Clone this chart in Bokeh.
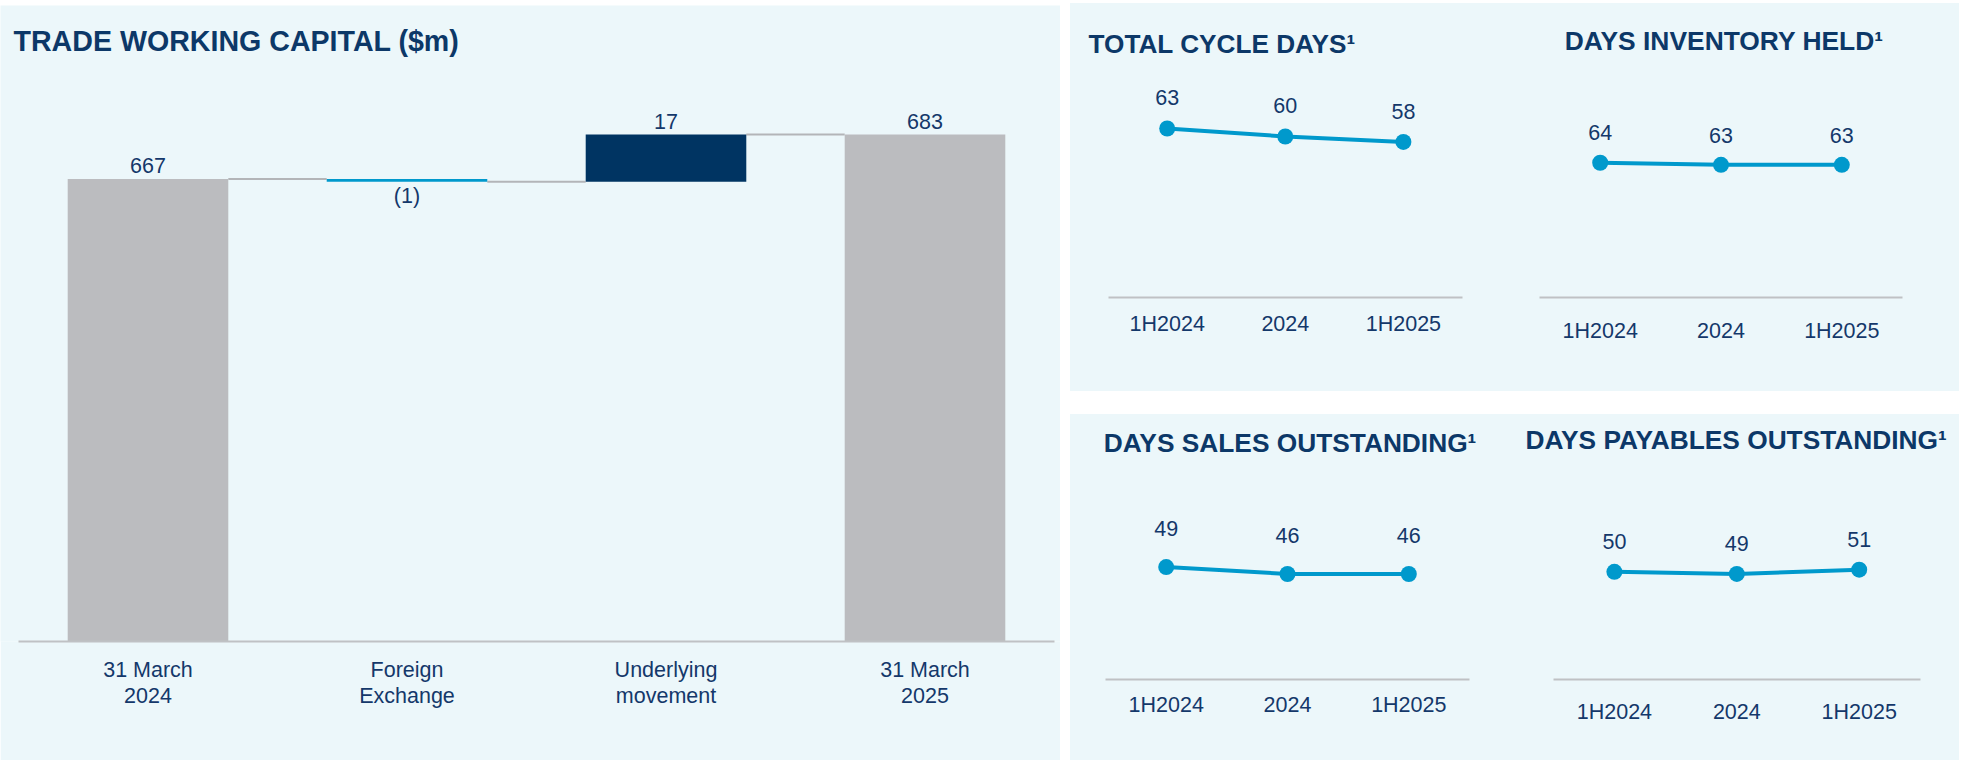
from bokeh.plotting import figure
from bokeh.models import ColumnDataSource, Range1d, FixedTicker, Spacer, Label
from bokeh.layouts import row, column
from bokeh.core.properties import value
from bokeh.embed import file_html
from bokeh.resources import INLINE

# ---------------- data ----------------
wf_categories = ["31 March 2024", "Foreign Exchange", "Underlying movement", "31 March 2025"]
wf_tick_labels = ["31 March\n2024", "Foreign\nExchange", "Underlying\nmovement", "31 March\n2025"]
wf_values = [667, -1, 17, 683]
wf_is_total = [True, False, False, True]
wf_axis_start = 500

periods = ["1H2024", "2024", "1H2025"]
total_cycle_days = [63, 60, 58]
days_inventory_held = [64, 63, 63]
days_sales_outstanding = [49, 46, 46]
days_payables_outstanding = [50, 49, 51]

# ---------------- style ----------------
FONT = "Liberation Sans"
NAVY = "#0C3868"
TEXT = "#14386A"
PANEL = "#ECF7FA"
AXIS_GRAY = "#BFC1C4"
BAR_GRAY = "#BBBCBF"
BAR_NAVY = "#003462"
BLUE = "#0099CC"
CONNECTOR = "#B3B5B8"
LABEL_PX = 21.5
LABEL_SIZE = f"{LABEL_PX}px"
SHIFT_EM = 0.38  # downward render offset of text, in em


def base_fig(width, height, bottom, n_cat, first_center, spacing, y_range):
    start = -first_center / spacing
    p = figure(width=width, height=height,
               x_range=Range1d(start, start + width / spacing), y_range=y_range,
               output_backend="svg", toolbar_location=None, y_axis_location=None,
               min_border_left=0, min_border_right=0,
               min_border_top=0, min_border_bottom=bottom)
    p.background_fill_color = PANEL
    p.border_fill_color = PANEL
    p.outline_line_color = None
    p.xgrid.visible = False
    p.ygrid.visible = False
    ax = p.xaxis[0]
    ax.bounds = (-0.5, n_cat - 0.5)
    ax.ticker = FixedTicker(ticks=list(range(n_cat)))
    ax.axis_line_color = AXIS_GRAY
    ax.axis_line_width = 2
    ax.major_tick_line_color = None
    ax.minor_tick_line_color = None
    ax.major_label_text_font = FONT
    ax.major_label_text_font_size = LABEL_SIZE
    ax.major_label_text_color = TEXT
    return p


def add_title(p, text, x, baseline, frame_bottom, size):
    anchor = baseline - SHIFT_EM * size
    p.add_layout(Label(x=x, y=frame_bottom - anchor, x_units="screen", y_units="screen",
                       text=text, text_font=FONT, text_font_style="bold",
                       text_font_size=f"{size}px", text_color=NAVY,
                       text_align="left", text_baseline="alphabetic"))


SHIFT = SHIFT_EM * LABEL_PX

# ---------------- waterfall ----------------
n = len(wf_categories)
idx = list(range(n))
bottoms, tops, colors, labels, label_y, label_off, running_after = [], [], [], [], [], [], []
running = 0
for v, tot in zip(wf_values, wf_is_total):
    if tot:
        b, t = wf_axis_start, v
        running = v
        c = BAR_GRAY
    else:
        b, t = running, running + v
        running = running + v
        c = BAR_NAVY if v >= 0 else BLUE
    bottoms.append(min(b, t))
    tops.append(max(b, t))
    colors.append(c)
    running_after.append(running)
    if v >= 0:
        labels.append(f"{v}")
        label_y.append(max(b, t))
        label_off.append(-5 - SHIFT)
    else:
        labels.append(f"({abs(v)})")
        label_y.append(min(b, t))
        label_off.append(22.7 - SHIFT)

bar_w = 0.62
wf_src = ColumnDataSource(dict(x=idx, bottom=bottoms, top=tops, color=colors,
                               label=labels, ly=label_y, loff=label_off))
conn_src = ColumnDataSource(dict(x0=[i + bar_w / 2 for i in idx[:-1]],
                                 x1=[i + 1 - bar_w / 2 for i in idx[:-1]],
                                 y=running_after[:-1]))

L_W, L_H, L_B = 1060, 755, 119
L_fb = L_H - L_B
pL = base_fig(L_W, L_H, L_B, n, 147.5, 259,
              Range1d(wf_axis_start, wf_axis_start + L_fb / 2.77))
pL.segment(x0="x0", y0="y", x1="x1", y1="y", source=conn_src,
           line_color=CONNECTOR, line_width=2)
pL.vbar(x="x", bottom="bottom", top="top", width=bar_w, source=wf_src,
        fill_color="color", line_color=None)
pL.text(x="x", y="ly", text="label", y_offset="loff", source=wf_src,
        text_font=value(FONT), text_font_size=LABEL_SIZE, text_color=TEXT,
        text_align="center", text_baseline="alphabetic")
axL = pL.xaxis[0]
axL.major_label_overrides = {i: lab for i, lab in zip(idx, wf_tick_labels)}
axL.major_label_standoff = 10
axL.major_label_text_line_height = 1.1
add_title(pL, "TRADE WORKING CAPITAL ($m)", 13, 46, L_fb, 28.6)


# ---------------- small line charts ----------------
def line_chart(width, height, bottom, first_center, spacing, ppu, vals, title,
               tx, tbase, tsize, lab_gap, standoff):
    fb = height - bottom
    m = len(periods)
    p = base_fig(width, height, bottom, m, first_center, spacing, Range1d(0, fb / ppu))
    ix = list(range(m))
    src = ColumnDataSource(dict(x=ix, y=vals, t=[str(v) for v in vals]))
    p.line(x="x", y="y", source=src, line_color=BLUE, line_width=4)
    p.scatter(x="x", y="y", source=src, size=16, fill_color=BLUE, line_color=None)
    p.text(x="x", y="y", text="t", source=src, y_offset=-(lab_gap + SHIFT),
           text_font=value(FONT), text_font_size=LABEL_SIZE, text_color=TEXT,
           text_align="center", text_baseline="alphabetic")
    ax = p.xaxis[0]
    ax.major_label_overrides = {i: lab for i, lab in zip(ix, periods)}
    ax.major_label_standoff = standoff
    add_title(p, title, tx, tbase, fb, tsize)
    return p


pTL = line_chart(440, 388, 94, 96.7, 118.1, 2.683, total_cycle_days,
                 "TOTAL CYCLE DAYS\u00b9", 18, 50.5, 26.2, 22.5, 8)
pTR = line_chart(449, 388, 92, 89.7, 120.8, 2.12, days_inventory_held,
                 "DAYS INVENTORY HELD\u00b9", 54.3, 49.5, 26.4, 21.6, 15)
pBL = line_chart(440, 346, 81, 95.7, 121.3, 2.294, days_sales_outstanding,
                 "DAYS SALES OUTSTANDING\u00b9", 33.3, 38.7, 26.3, 30.5, 7)
pBR = line_chart(449, 346, 81, 103.9, 122.4, 2.154, days_payables_outstanding,
                 "DAYS PAYABLES OUTSTANDING\u00b9", 15, 35, 26.3, 22, 14)

panel_style = {"background-color": PANEL}
left_col = column(Spacer(height=5), pL)
right_col = column(Spacer(height=3),
                   row(pTL, pTR, styles=panel_style),
                   Spacer(height=23),
                   row(pBL, pBR, styles=panel_style))
layout = row(left_col, Spacer(width=10), right_col)

open("out.html", "w").write(file_html(layout, INLINE))
